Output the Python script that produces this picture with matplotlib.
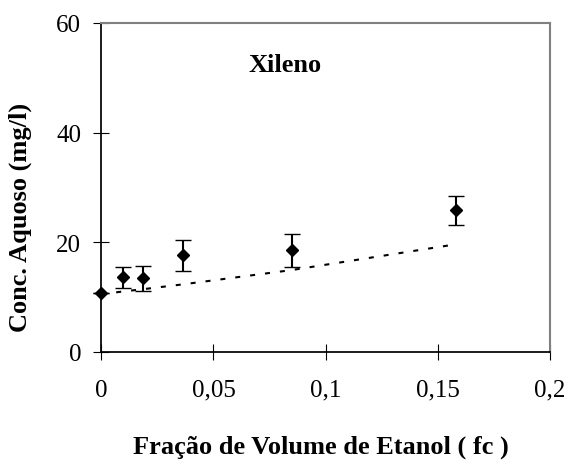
import matplotlib
matplotlib.use("Agg")
import matplotlib.pyplot as plt

plt.rcParams['font.family'] = ['Liberation Serif', 'DejaVu Serif']

fc = [0.0, 0.0098, 0.0184, 0.0365, 0.0848, 0.158]
conc = [10.7, 13.6, 13.4, 17.6, 18.5, 25.8]
err = [0.0, 1.9, 2.3, 2.8, 3.0, 2.6]
model = [10.5, 11.0, 11.4, 12.3, 14.9, 19.6]

xticks = [0, 0.05, 0.1, 0.15, 0.2]
xticklabels = ['0', '0,05', '0,1', '0,15', '0,2']
yticks = [0, 20, 40, 60]

W, H = 573, 464
fig = plt.figure(figsize=(W / 100, H / 100), dpi=100)
left, right, top, bottom = 101.3, 550.0, 24.0, 352.7
ax = fig.add_axes([left / W, 1 - bottom / H, (right - left) / W, (bottom - top) / H])

ax.plot(fc, model, color='black', lw=1.5, dashes=(2.4, 4.8), zorder=2)
ax.errorbar(fc, conc, yerr=err, fmt='D', color='black', ms=6.5, mew=1.0,
            ecolor='black', elinewidth=1.5, capsize=5.6, capthick=1.5, zorder=3,
            clip_on=False)

ax.set_xlim(0, 0.2)
ax.set_ylim(0, 60)
ax.set_xticks(xticks)
ax.set_xticklabels(xticklabels)
ax.set_yticks(yticks)
ax.tick_params(direction='inout', length=12, width=0.8, labelsize=18, colors='black')
ax.tick_params(axis='x', pad=13.4)
ax.tick_params(axis='y', pad=8.5)

for s in ['left', 'bottom']:
    ax.spines[s].set_color('black')
    ax.spines[s].set_linewidth(1.25)
for s in ['top', 'right']:
    ax.spines[s].set_color('#808080')
    ax.spines[s].set_linewidth(1.5)

ax.text((285 - left) / (right - left), (bottom - 71.7) / (bottom - top), 'Xileno',
        transform=ax.transAxes, fontsize=19, fontweight='bold',
        ha='center', va='baseline')

fig.text(320.9 / W, (H - 453.3) / H, 'Fração de Volume de Etanol ( fc )',
         fontsize=19, fontweight='bold', ha='center', va='baseline')
fig.text(26.7 / W, 1 - 217.5 / H, 'Conc. Aquoso (mg/l)', fontsize=19,
         fontweight='bold', rotation=90, rotation_mode='anchor',
         ha='center', va='baseline')

fig.savefig('out.png', dpi=100)
